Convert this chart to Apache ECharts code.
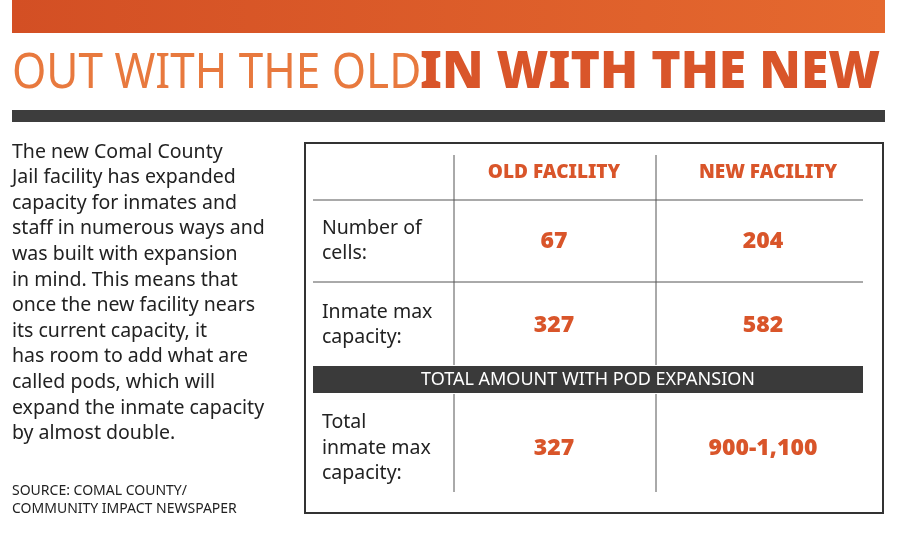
<!DOCTYPE html><html><head><meta charset="utf-8"><script src="https://cdn.jsdelivr.net/npm/echarts@6/dist/echarts.min.js"></script>
<style>html,body{margin:0;background:#fff}#c{width:900px;height:538px}</style></head><body><div id="c"></div><script>
const titleLight="OUT WITH THE OLD";
const titleBold="IN WITH THE NEW";
const introLines=["The new Comal County","Jail facility has expanded","capacity for inmates and","staff in numerous ways and","was built with expansion","in mind. This means that","once the new facility nears","its current capacity, it","has room to add what are","called pods, which will","expand the inmate capacity","by almost double."];
const sourceLines=["SOURCE: COMAL COUNTY/","COMMUNITY IMPACT NEWSPAPER"];
const columns=["OLD FACILITY","NEW FACILITY"];
const rowLabels=[["Number of","cells:"],["Inmate max","capacity:"],["Total","inmate max","capacity:"]];
const oldValues=["67","327","327"];
const newValues=["204","582","900-1,100"];
const bandLabel="TOTAL AMOUNT WITH POD EXPANSION";
const ORANGE="#d9552a",F="'Noto Sans', sans-serif",C="'Noto Sans',sans-serif";
const g=[];
g.push({type:'rect',shape:{x:12,y:0,width:873,height:33},style:{fill:new echarts.graphic.LinearGradient(0,0,1,0,[{offset:0,color:'#d34f24'},{offset:1,color:'#e5692f'}])}});
g.push({type:'text',x:12,y:99,scaleX:0.88,style:{text:titleLight,font:"50px "+C,fill:'#e8793e',textVerticalAlign:'bottom'}});
g.push({type:'text',x:420,y:99,scaleX:0.96,style:{text:titleBold,font:"900 52px "+C,fill:ORANGE,textVerticalAlign:'bottom'}});
g.push({type:'rect',shape:{x:12,y:110,width:873,height:12},style:{fill:'#3d3d3d'}});
introLines.forEach((t,i)=>g.push({type:'text',x:12,y:152+i*25.6,style:{text:t,font:"19.5px "+F,fill:'#222',textVerticalAlign:'middle'}}));
sourceLines.forEach((t,i)=>g.push({type:'text',x:12,y:491+i*18,style:{text:t,font:"14px "+F,fill:'#222',textVerticalAlign:'middle'}}));
g.push({type:'rect',shape:{x:305,y:143,width:578,height:370},style:{fill:'none',stroke:'#333',lineWidth:2}});
const line=(x1,y1,x2,y2)=>g.push({type:'line',shape:{x1,y1,x2,y2},style:{stroke:'#555',lineWidth:1}});
line(313,200,863,200);line(313,282,863,282);
line(454,155,454,365);line(656,155,656,365);
line(454,394,454,492);line(656,394,656,492);
g.push({type:'rect',shape:{x:313,y:366,width:550,height:27},style:{fill:'#3a3a3a'}});
g.push({type:'text',x:588,y:380,style:{text:bandLabel,font:"18px "+F,fill:'#fff',textAlign:'center',textVerticalAlign:'middle'}});
const colX=[554,768];
columns.forEach((t,i)=>g.push({type:'text',x:colX[i],y:173,style:{text:t,font:"900 19px "+C,fill:ORANGE,textAlign:'center',textVerticalAlign:'middle'}}));
const rowY=[241,325,448];
rowLabels.forEach((ls,r)=>ls.forEach((t,i)=>g.push({type:'text',x:322,y:rowY[r]+(i-(ls.length-1)/2)*25.5,style:{text:t,font:"19.5px "+F,fill:'#222',textVerticalAlign:'middle'}})));
rowY.forEach((y,r)=>{
 g.push({type:'text',x:colX[0],y,style:{text:oldValues[r],font:"900 23px "+F,fill:ORANGE,textAlign:'center',textVerticalAlign:'middle'}});
 g.push({type:'text',x:colX[1]-5,y,style:{text:newValues[r],font:"900 23px "+F,fill:ORANGE,textAlign:'center',textVerticalAlign:'middle'}});
});
echarts.init(document.getElementById('c')).setOption({graphic:g});
</script></body></html>
